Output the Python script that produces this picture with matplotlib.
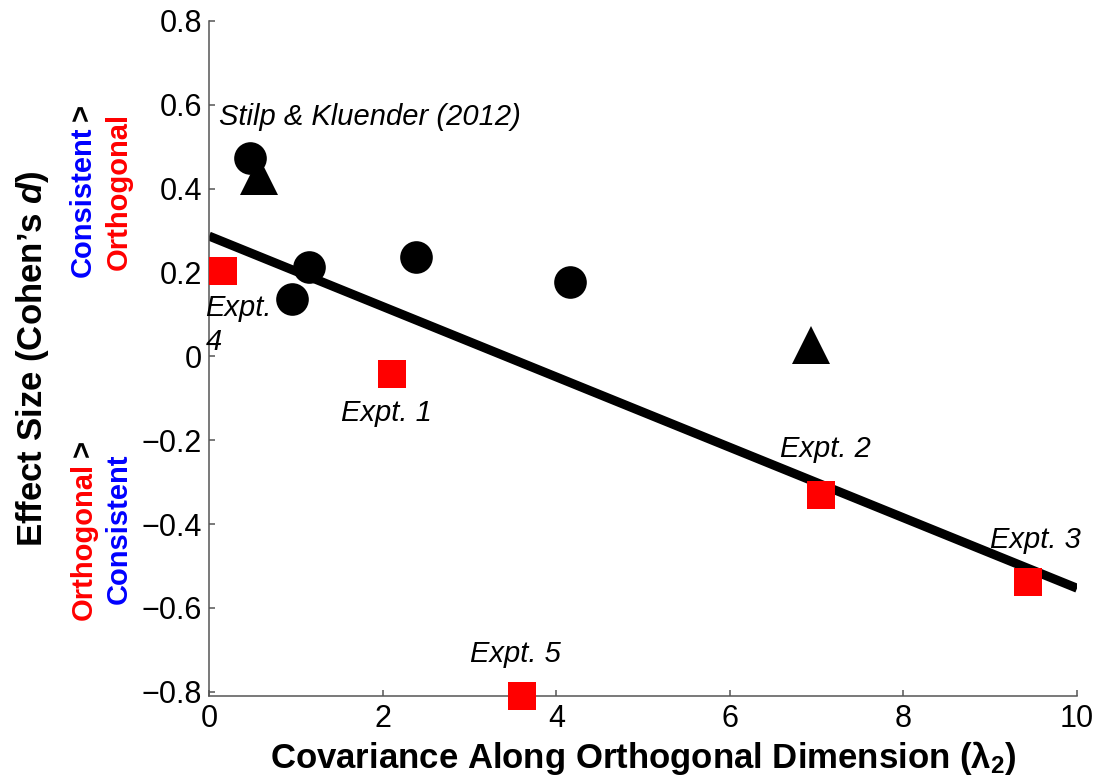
import matplotlib
matplotlib.use('Agg')
import matplotlib.pyplot as plt

plt.rcParams['font.family'] = ['Liberation Sans', 'DejaVu Sans']
plt.rcParams['mathtext.fontset'] = 'custom'
plt.rcParams['mathtext.rm'] = 'Liberation Sans:bold'
plt.rcParams['mathtext.bf'] = 'Liberation Sans:bold'
plt.rcParams['mathtext.it'] = 'Liberation Sans:bold:italic'

# Stilp & Kluender (2012) results
circle_x = [0.47, 0.95, 1.15, 2.38, 4.16]
circle_y = [0.473, 0.136, 0.214, 0.238, 0.178]
tri_x = [0.57, 6.93]
tri_y = [0.43, 0.026]

# present experiments (Expt. 1-5)
expt_x = [2.11, 7.05, 9.43, 0.16, 3.60]
expt_y = [-0.043, -0.33, -0.538, 0.203, -0.81]

# regression line end points
fit_x = [0, 10]
fit_y = [0.287, -0.553]

# text labels: (text, x, y, ha, va)
labels = [
    ('Stilp & Kluender (2012)', 0.11, 0.552, 'left', 'baseline'),
    ('Expt. 1', 2.04, -0.153, 'center', 'baseline'),
    ('Expt. 2', 7.10, -0.241, 'center', 'baseline'),
    ('Expt. 3', 9.52, -0.458, 'center', 'baseline'),
    ('Expt.\n4', -0.04, 0.148, 'left', 'top'),
    ('Expt. 5', 3.53, -0.73, 'center', 'baseline'),
]

fig = plt.figure(figsize=(11.12, 7.8), dpi=100)
ax = fig.add_axes([0.188, 0.1077, 0.7806, 0.8654])

ax.plot(fit_x, fit_y, color='black', lw=6.5, solid_capstyle='butt', zorder=2)
ax.plot(circle_x, circle_y, 'o', color='black', ms=23.5, mew=0, zorder=3)
ax.plot(tri_x, tri_y, '^', color='black', ms=28, mew=0, zorder=3)
ax.plot(expt_x, expt_y, 's', color='red', ms=19.5, mew=0, zorder=4, clip_on=False)

for txt, x, y, ha, va in labels:
    ax.text(x, y, txt, ha=ha, va=va, fontsize=21, style='italic', zorder=5,
            linespacing=1.25)

ax.set_xlim(0, 10)
ax.set_ylim(-0.81, 0.8)
ax.set_xticks([0, 2, 4, 6, 8, 10])
ax.set_yticks([-0.8, -0.6, -0.4, -0.2, 0, 0.2, 0.4, 0.6, 0.8])
ax.set_yticklabels(['\u22120.8', '\u22120.6', '\u22120.4', '\u22120.2', '0', '0.2', '0.4', '0.6', '0.8'])
for side in ['top', 'right']:
    ax.spines[side].set_visible(False)
for side in ['left', 'bottom']:
    ax.spines[side].set_color('#555555')
    ax.spines[side].set_linewidth(1.1)
ax.tick_params(direction='in', length=4.5, width=1.1, color='#555555', labelsize=22)
ax.tick_params(axis='x', pad=6)
ax.tick_params(axis='y', pad=5)

ax.set_xlabel('Covariance Along Orthogonal Dimension (\u03bb$_2$)', fontsize=25, fontweight='bold')
ax.xaxis.set_label_coords(0.5, -0.1067)
ax.xaxis.label.set_va('baseline')

ax.set_ylabel('Effect Size (Cohen\u2019s $\\mathit{d}$)', fontsize=25, fontweight='bold')
ax.yaxis.set_label_coords(-0.1924, 0.5)
ax.yaxis.label.set_va('baseline')


def stacked_label(x_px, y_px, pieces):
    # rotated text made of coloured pieces, one after another upwards
    x = x_px / 1112
    y = 1 - y_px / 780
    prev = None
    for txt, col in pieces:
        if prev is None:
            prev = fig.text(x, y, txt, color=col, fontsize=21, fontweight='bold',
                            rotation=90, rotation_mode='anchor', ha='left', va='baseline')
        else:
            prev = ax.annotate(txt, xy=(x, 1), xycoords=('figure fraction', prev),
                               xytext=(0, 4), textcoords='offset points',
                               color=col, fontsize=21, fontweight='bold',
                               rotation=90, rotation_mode='anchor', ha='left', va='baseline')


stacked_label(91, 277, [('Consistent', 'blue'), ('>', 'black')])
stacked_label(127, 270, [('Orthogonal', 'red')])
stacked_label(92, 620, [('Orthogonal', 'red'), ('>', 'black')])
stacked_label(127, 604, [('Consistent', 'blue')])

fig.savefig('out.png', dpi=100)
